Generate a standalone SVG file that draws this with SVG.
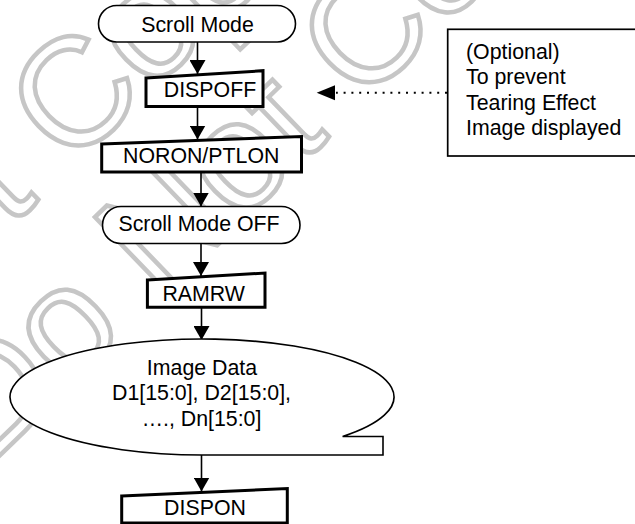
<svg xmlns="http://www.w3.org/2000/svg" width="635" height="524" viewBox="0 0 635 524">
<style>
  .t { font-family: "Liberation Sans", Arial, sans-serif; font-size: 21.33px; fill: #000; }
  .c { text-anchor: middle; }
  .term { fill: #fff; stroke: #000; stroke-width: 1.6; }
  .man { fill: #fff; stroke: #000; stroke-width: 3; stroke-linejoin: miter; }
  .edge { stroke: #000; stroke-width: 1.6; fill: none; }
  .dot { stroke: #000; stroke-width: 2; fill: none; stroke-dasharray: 2 5.8; }
  .wm { font-family: "Liberation Sans", Arial, sans-serif; font-size: 153px; fill: none; stroke: #c6c6c6; stroke-width: 4.5; }
</style>
<defs>
  <marker id="ah" viewBox="0 0 14 16" refX="14" refY="8" markerWidth="14" markerHeight="16" markerUnits="userSpaceOnUse" orient="auto">
    <path d="M0,0 L14,8 L0,16 Z" fill="#000" stroke="none"/>
  </marker>
</defs>
<rect width="635" height="524" fill="#fff"/>
<g id="watermark">
  <text class="wm" transform="translate(-12.3,466.9) rotate(-44)">Do Not Copy</text>
  <text class="wm" transform="translate(-303,530) rotate(-44)">Do Not Copy</text>
</g>
<g id="connectors">
  <line class="edge" x1="197.5" y1="42" x2="197.5" y2="74" marker-end="url(#ah)"/>
  <line class="edge" x1="197.5" y1="106.5" x2="197.5" y2="139.5" marker-end="url(#ah)"/>
  <line class="edge" x1="201" y1="172" x2="201" y2="206.5" marker-end="url(#ah)"/>
  <line class="edge" x1="201" y1="243.5" x2="201" y2="276" marker-end="url(#ah)"/>
  <line class="edge" x1="201.5" y1="307.3" x2="201.5" y2="340" marker-end="url(#ah)"/>
  <line class="edge" x1="201.5" y1="455" x2="201.5" y2="491.5" marker-end="url(#ah)"/>
  <line class="dot" x1="447" y1="92.7" x2="336" y2="92.7"/>
  <polygon points="316.7,92.7 335,85.2 335,100.2" fill="#000"/>
</g>
<g id="scroll-mode">
  <rect class="term" x="98.5" y="5.5" width="197" height="36.5" rx="18.2"/>
  <text class="t c" x="197.5" y="31.7">Scroll Mode</text>
</g>
<g id="dispoff">
  <polygon class="man" points="146,78 263,70.7 263,106.5 146,106.5"/>
  <text class="t c" x="210" y="97.3">DISPOFF</text>
</g>
<g id="noron-ptlon">
  <polygon class="man" points="101.7,144 301.5,136.5 301.5,172 101.7,172"/>
  <text class="t c" x="201.2" y="163.3">NORON/PTLON</text>
</g>
<g id="scroll-mode-off">
  <rect class="term" x="102.5" y="206.5" width="197.5" height="37" rx="18.5"/>
  <text class="t c" x="199" y="231.3">Scroll Mode OFF</text>
</g>
<g id="ramrw">
  <polygon class="man" points="147.4,280 265,273 265,307.3 147.4,307.3"/>
  <text class="t c" x="203.7" y="301">RAMRW</text>
</g>
<g id="image-data">
  <path class="term" d="M202,455 A192 58 0 1 1 342.6,436.5 L383,436.5 L383,455 Z"/>
  <text class="t c" x="202" y="375">Image Data</text>
  <text class="t c" x="201.5" y="400.3">D1[15:0], D2[15:0],</text>
  <text class="t c" x="201.5" y="425.6">…., Dn[15:0]</text>
</g>
<g id="dispon">
  <polygon class="man" points="121.7,496 287.3,488.5 287.3,523 121.7,523"/>
  <text class="t c" x="205" y="515">DISPON</text>
</g>
<g id="note">
  <rect x="447.7" y="29.3" width="200" height="126.7" fill="#fff" stroke="#000" stroke-width="1.7"/>
  <text class="t" x="466" y="59">(Optional)</text>
  <text class="t" x="466" y="84.3">To prevent</text>
  <text class="t" x="466" y="109.6">Tearing Effect</text>
  <text class="t" x="466" y="135">Image displayed</text>
</g>
</svg>
